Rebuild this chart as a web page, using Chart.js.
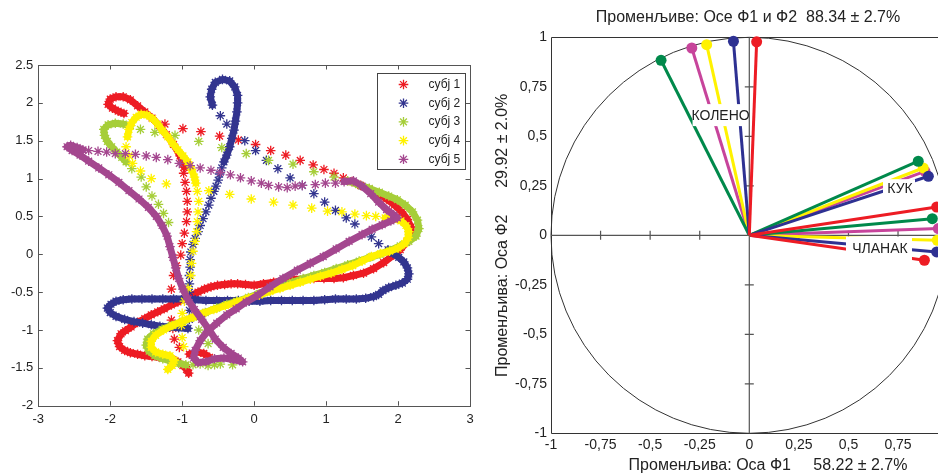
<!DOCTYPE html>
<html>
<head>
<meta charset="utf-8">
<script src="https://cdn.jsdelivr.net/npm/chart.js@4.4.1/dist/chart.umd.min.js"></script>
<style>
  html, body { margin: 0; padding: 0; width: 938px; height: 476px; overflow: hidden; background: #fff; }
  #traj { position: absolute; left: 0; top: 0; }
  #circle { position: absolute; left: 480px; top: 0; }
</style>
</head>
<body>
<canvas id="traj" width="480" height="476"></canvas>
<canvas id="circle" width="480" height="476"></canvas>
<script>
// ---- left panel: trajectories of the five subjects ----
const legendLabels = ['субј 1', 'субј 2', 'субј 3', 'субј 4', 'субј 5'];
const trajColors = ['#ed1c24', '#33358f', '#a6ce39', '#fff200', '#a4478f'];

// dense parts of each trajectory (pieces), and the sparse single stars
const s1Band = [
  [[-0.97,1.15],[-1.03,1.30],[-1.12,1.45],[-1.22,1.58],[-1.32,1.70],[-1.42,1.80],[-1.52,1.88],[-1.62,1.96],
   [-1.72,2.04],[-1.82,2.08],[-1.92,2.08],[-2.00,2.05],[-2.03,1.98],[-1.97,1.93],[-1.89,1.89],[-1.81,1.86]],
  [[1.36,0.96],[1.48,0.91],[1.60,0.86],[1.72,0.80],[1.84,0.73],[1.95,0.65],[2.05,0.56],[2.13,0.46],[2.18,0.36],
   [2.18,0.26],[2.12,0.16],[2.03,0.06],[1.94,-0.01],[1.80,-0.11],[1.66,-0.19],[1.52,-0.25],[1.38,-0.28],
   [1.24,-0.31],[1.11,-0.32],[0.97,-0.32],[0.83,-0.32],[0.69,-0.33],[0.55,-0.33],[0.41,-0.35],[0.27,-0.37],
   [0.13,-0.39],[0.00,-0.41],[-0.12,-0.40],[-0.23,-0.39],[-0.32,-0.39],[-0.41,-0.40],[-0.51,-0.41],[-0.60,-0.43],
   [-0.69,-0.46],[-0.78,-0.50],[-0.88,-0.55],[-0.97,-0.59],[-1.06,-0.63],[-1.15,-0.67],[-1.25,-0.72],
   [-1.34,-0.76],[-1.43,-0.80],[-1.52,-0.85],[-1.62,-0.90],[-1.71,-0.96],[-1.79,-1.01],[-1.85,-1.05],
   [-1.90,-1.14],[-1.87,-1.22],[-1.80,-1.27],[-1.72,-1.30],[-1.62,-1.32],[-1.52,-1.34],[-1.42,-1.35],
   [-1.32,-1.36],[-1.22,-1.37],[-1.13,-1.39],[-1.06,-1.42],[-0.99,-1.47],[-0.94,-1.52],[-0.91,-1.57]],
  [[-0.90,-1.32],[-0.80,-1.29],[-0.70,-1.31],[-0.62,-1.36]]
];
const s1Dots = [[-1.04,-1.23],[-1.11,-1.12],[-1.13,-0.98],[-1.15,-0.87],[-1.15,-0.46],[-1.12,-0.28],[-1.08,-0.15],
  [-1.02,-0.01],[-1.00,0.14],[-0.97,0.28],[-0.94,0.43],[-0.93,0.56],[-0.93,0.70],[-0.94,0.83],[-0.96,0.95],
  [-0.98,1.07],[-1.24,1.72],[-0.99,1.66],[-0.74,1.62],[-0.48,1.56],[-0.22,1.51],[0.02,1.45],[0.23,1.37],
  [0.44,1.31],[0.64,1.24],[0.82,1.18],[0.97,1.12],[1.11,1.07],[1.24,1.01]];

const s2Band = [
  [[-0.58,1.97],[-0.61,2.08],[-0.59,2.18],[-0.54,2.27],[-0.44,2.31],[-0.34,2.29],[-0.27,2.21],[-0.23,2.10],
   [-0.23,2.00],[-0.24,1.88],[-0.26,1.76],[-0.28,1.64],[-0.31,1.53],[-0.34,1.42],[-0.38,1.31],[-0.42,1.22]],
  [[-0.92,-0.98],[-1.05,-0.97],[-1.18,-0.96],[-1.31,-0.95],[-1.43,-0.93],[-1.55,-0.91],[-1.67,-0.89],
   [-1.80,-0.86],[-1.92,-0.82],[-2.00,-0.77],[-2.04,-0.71],[-1.99,-0.66],[-1.92,-0.62],[-1.82,-0.60],
   [-1.70,-0.59],[-1.56,-0.59],[-1.42,-0.59],[-1.27,-0.59],[-1.12,-0.59],[-0.97,-0.59],[-0.82,-0.60],
   [-0.67,-0.61],[-0.52,-0.61],[-0.37,-0.61],[-0.22,-0.61],[-0.07,-0.62],[0.08,-0.62],[0.23,-0.61],
   [0.38,-0.61],[0.53,-0.61],[0.68,-0.61],[0.83,-0.61],[0.98,-0.60],[1.13,-0.59],[1.28,-0.59],[1.42,-0.59],
   [1.55,-0.58],[1.66,-0.56],[1.73,-0.53],[1.79,-0.48],[1.87,-0.44],[1.97,-0.41],[2.06,-0.38],[2.13,-0.33],
   [2.15,-0.26],[2.13,-0.18],[2.08,-0.10],[2.01,-0.04],[1.93,0.01],[1.86,0.06]]
];
const s2Dots = [[-0.45,1.14],[-0.48,1.06],[-0.50,0.98],[-0.53,0.90],[-0.56,0.83],[-0.60,0.74],[-0.63,0.65],
  [-0.67,0.56],[-0.71,0.47],[-0.75,0.38],[-0.78,0.30],[-0.82,0.21],[-0.85,0.13],[-0.88,0.03],[-0.89,-0.07],
  [-0.89,-0.17],[-0.90,-0.28],[-0.90,-0.39],[-0.90,-0.50],[-0.90,-0.62],[-0.90,-0.74],[-0.90,-0.86],
  [1.73,0.14],[1.63,0.23],[1.40,0.40],[1.28,0.48],[1.13,0.58],[0.98,0.69],[0.83,0.80],[0.67,0.91],
  [0.50,1.01],[0.33,1.13],[0.17,1.24],[0.02,1.37],[-0.13,1.50],[-0.38,1.72],[-0.47,1.83]];

const s3Band = [
  [[-1.72,1.70],[-1.82,1.72],[-1.93,1.73],[-2.03,1.71],[-2.09,1.65],[-2.08,1.57],[-2.04,1.49],[-1.98,1.42],
   [-1.91,1.35],[-1.84,1.28],[-1.78,1.22]],
  [[1.30,0.97],[1.45,0.92],[1.60,0.87],[1.74,0.82],[1.87,0.77],[1.99,0.72],[2.10,0.65],[2.20,0.56],[2.27,0.45],
   [2.29,0.34],[2.25,0.24],[2.15,0.17],[2.03,0.11],[1.89,0.05],[1.75,0.00],[1.61,-0.04],[1.46,-0.09],
   [1.30,-0.14],[1.14,-0.19],[0.98,-0.24],[0.83,-0.28],[0.68,-0.32],[0.53,-0.37],[0.37,-0.42],[0.22,-0.47],
   [0.07,-0.52],[-0.08,-0.57],[-0.24,-0.62],[-0.38,-0.66],[-0.52,-0.71],[-0.68,-0.77],[-0.84,-0.83],
   [-1.00,-0.89],[-1.15,-0.94],[-1.28,-0.99],[-1.40,-1.05],[-1.48,-1.12],[-1.50,-1.20],[-1.46,-1.28],
   [-1.38,-1.34],[-1.27,-1.38],[-1.16,-1.41],[-1.05,-1.44],[-0.95,-1.46]]
];
const s3Dots = [[-1.58,1.65],[-1.38,1.61],[-1.10,1.57],[-0.77,1.49],[-0.45,1.41],[-0.11,1.33],[0.20,1.24],
  [0.54,1.19],[0.83,1.09],[1.11,1.02],[-1.70,1.13],[-1.57,1.02],[-1.50,0.89],[-1.42,0.77],[-1.33,0.66],
  [-1.26,0.54],[-1.19,0.42],[-0.77,-1.00],[-0.64,-1.18],[-0.85,-1.46],[-0.75,-1.45],[-0.64,-1.47],
  [-0.55,-1.46],[-0.47,-1.45],[-0.30,-1.46]];

const s4Band = [
  [[-1.76,1.55],[-1.74,1.65],[-1.70,1.74],[-1.64,1.81],[-1.57,1.85],[-1.49,1.84],[-1.41,1.79],[-1.34,1.72],
   [-1.27,1.63],[-1.20,1.55],[-1.13,1.46],[-1.06,1.38],[-0.99,1.30],[-0.92,1.22],[-0.87,1.12],[-0.83,1.02],
   [-0.81,0.94]],
  [[1.82,0.48],[1.94,0.47],[2.04,0.44],[2.11,0.38],[2.15,0.30],[2.14,0.22],[2.09,0.14],[2.00,0.08],[1.88,0.04],
   [1.76,0.01],[1.63,-0.03],[1.50,-0.09],[1.37,-0.15],[1.22,-0.20],[1.07,-0.25],[0.92,-0.29],[0.78,-0.33],
   [0.64,-0.37],[0.50,-0.41],[0.36,-0.45],[0.22,-0.49],[0.07,-0.54],[-0.08,-0.58],[-0.24,-0.63],[-0.40,-0.68],
   [-0.56,-0.73],[-0.71,-0.78],[-0.85,-0.83],[-0.99,-0.88],[-1.13,-0.94],[-1.26,-1.00],[-1.37,-1.07],
   [-1.43,-1.15],[-1.43,-1.23],[-1.37,-1.29],[-1.27,-1.32],[-1.17,-1.34],[-1.11,-1.40],[-1.14,-1.47],
   [-1.20,-1.52]]
];
const s4Dots = [[-1.78,1.42],[-1.74,1.30],[-1.69,1.20],[-1.58,1.10],[-1.43,1.00],[-1.22,0.93],[-0.63,0.84],
  [-0.34,0.79],[-0.04,0.73],[0.27,0.69],[0.54,0.65],[0.80,0.61],[1.02,0.57],[1.22,0.56],[1.40,0.53],
  [1.56,0.51],[1.69,0.50],[-0.79,0.83],[-0.77,0.70],[-0.78,0.56],[-0.79,0.43],[-0.80,0.30],[-0.82,0.17],
  [-0.85,0.04],[-0.87,-0.12],[-0.88,-0.28],[-0.92,-0.45],[-0.97,-0.62],[-1.00,-0.78],[-1.01,-0.94],
  [-1.00,-1.10],[-0.98,-1.22]];

const s5Band = [
  [[1.25,0.96],[1.38,0.97],[1.50,0.90],[1.62,0.80],[1.73,0.69],[1.84,0.59],[1.94,0.52],[1.99,0.48],[1.90,0.44],
   [1.78,0.39],[1.64,0.33],[1.50,0.26],[1.32,0.17],[1.14,0.07],[0.96,-0.03],[0.78,-0.12],[0.60,-0.21],
   [0.40,-0.32],[0.22,-0.43],[0.05,-0.54],[-0.11,-0.63],[-0.25,-0.72],[-0.38,-0.80],[-0.52,-0.91],
   [-0.65,-1.02],[-0.75,-1.14],[-0.82,-1.27],[-0.84,-1.37],[-0.78,-1.43],[-0.67,-1.42],[-0.55,-1.38],
   [-0.42,-1.37],[-0.29,-1.39],[-0.16,-1.42],[-0.22,-1.37],[-0.32,-1.31],[-0.43,-1.23],[-0.54,-1.12],
   [-0.63,-0.99],[-0.73,-0.86],[-0.83,-0.73],[-0.92,-0.60],[-0.99,-0.46],[-1.05,-0.32],[-1.09,-0.18],
   [-1.13,-0.04],[-1.17,0.10],[-1.21,0.24],[-1.28,0.38],[-1.36,0.50],[-1.47,0.62],[-1.60,0.73],[-1.74,0.84],
   [-1.88,0.95],[-2.02,1.05],[-2.16,1.14],[-2.30,1.23],[-2.42,1.31],[-2.53,1.37],[-2.60,1.42],[-2.55,1.44],
   [-2.46,1.41],[-2.38,1.38]]
];
const s5Dots = [[-2.30,1.37],[-2.17,1.36],[-2.05,1.35],[-1.93,1.33],[-1.79,1.33],[-1.65,1.32],[-1.50,1.30],
  [-1.36,1.28],[-1.20,1.25],[-1.04,1.20],[-0.89,1.17],[-0.75,1.14],[-0.60,1.11],[-0.47,1.08],[-0.33,1.05],
  [-0.19,1.01],[-0.04,0.97],[0.10,0.94],[0.20,0.91],[0.34,0.89],[0.46,0.88],[0.57,0.90],[0.67,0.91],
  [0.85,0.92],[0.99,0.94],[1.13,0.94]];

// ---- right panel: correlation circle, loadings on F1 / F2 ----
const vecColors = ['#ed1c24', '#2e3192', '#00894b', '#fff200', '#c7449b'];
const kneeF1 = [0.037, -0.08, -0.445, -0.215, -0.29];
const kneeF2 = [0.977, 0.98, 0.884, 0.963, 0.946];
const hipF1 = [0.945, 0.903, 0.852, 0.877, 0.886];
const hipF2 = [0.143, 0.298, 0.374, 0.34, 0.323];
const ankleF1 = [0.883, 0.945, 0.923, 0.948, 0.953];
const ankleF2 = [-0.126, -0.084, 0.084, -0.025, 0.034];

const FONT = '"Liberation Sans", Arial, sans-serif';
Chart.defaults.font.family = FONT;
Chart.defaults.color = '#222';

function drawStar(ctx, x, y, r) {
  const d = r * Math.SQRT1_2;
  ctx.beginPath();
  ctx.moveTo(x - r, y); ctx.lineTo(x + r, y);
  ctx.moveTo(x, y - r); ctx.lineTo(x, y + r);
  ctx.moveTo(x - d, y - d); ctx.lineTo(x + d, y + d);
  ctx.moveTo(x - d, y + d); ctx.lineTo(x + d, y - d);
  ctx.stroke();
}

const toXY = p => ({ x: p[0], y: p[1] });
const series = [
  { band: s1Band, dots: s1Dots },
  { band: s2Band, dots: s2Dots },
  { band: s3Band, dots: s3Dots },
  { band: s4Band, dots: s4Dots },
  { band: s5Band, dots: s5Dots }
];
const trajSets = [];
series.forEach((s, i) => {
  const color = trajColors[i];
  const order = series.length - i; // later subjects on top, like the original plot
  s.band.forEach(piece => trajSets.push({
    label: legendLabels[i], data: piece.map(toXY), showLine: true, order,
    borderColor: color, borderWidth: 7, borderJoinStyle: 'round', borderCapStyle: 'round',
    pointStyle: 'star', pointRadius: 4.8, pointBorderWidth: 1.3, pointBorderColor: color
  }));
  trajSets.push({
    label: legendLabels[i], data: s.dots.map(toXY), showLine: false, order,
    pointStyle: 'star', pointRadius: 4.8, pointBorderWidth: 1.3, pointBorderColor: color
  });
});

// matlab-like box with inward ticks
const boxPlugin = {
  id: 'boxTicks',
  afterDatasetsDraw(chart) {
    const { ctx, chartArea: a, scales: { x, y } } = chart;
    ctx.save();
    ctx.strokeStyle = '#555';
    ctx.lineWidth = 1;
    ctx.strokeRect(Math.round(a.left) + 0.5, Math.round(a.top) + 0.5, Math.round(a.right - a.left), Math.round(a.bottom - a.top));
    ctx.beginPath();
    x.ticks.forEach(t => {
      const px = Math.round(x.getPixelForValue(t.value)) + 0.5;
      ctx.moveTo(px, a.bottom); ctx.lineTo(px, a.bottom - 4.5);
      ctx.moveTo(px, a.top); ctx.lineTo(px, a.top + 4.5);
    });
    y.ticks.forEach(t => {
      const py = Math.round(y.getPixelForValue(t.value)) + 0.5;
      ctx.moveTo(a.left, py); ctx.lineTo(a.left + 4.5, py);
      ctx.moveTo(a.right, py); ctx.lineTo(a.right - 4.5, py);
    });
    ctx.stroke();
    ctx.restore();
  }
};

const legendPlugin = {
  id: 'boxLegend',
  afterDraw(chart) {
    const { ctx, chartArea: a } = chart;
    const w = 88, h = 96;
    const left = Math.round(a.right - 5 - w), top = Math.round(a.top + 8);
    ctx.save();
    ctx.fillStyle = '#fff';
    ctx.fillRect(left, top, w, h);
    ctx.strokeStyle = '#444';
    ctx.lineWidth = 1;
    ctx.strokeRect(left + 0.5, top + 0.5, w, h);
    ctx.font = '12px ' + FONT;
    ctx.textBaseline = 'middle';
    legendLabels.forEach((lab, i) => {
      const yy = top + 11.5 + i * 18.7;
      ctx.strokeStyle = trajColors[i];
      ctx.lineWidth = 1.3;
      drawStar(ctx, left + 26.5, yy, 4.8);
      ctx.fillStyle = '#222';
      ctx.fillText(lab, left + 51.5, yy);
    });
    ctx.restore();
  }
};

new Chart(document.getElementById('traj'), {
  type: 'scatter',
  data: { datasets: trajSets },
  options: {
    responsive: false, animation: false, devicePixelRatio: 1, events: [],
    layout: { padding: { top: 65, right: 10, bottom: 0, left: 0 } },
    plugins: { legend: { display: false }, tooltip: { enabled: false } },
    scales: {
      x: {
        type: 'linear', min: -3, max: 3,
        afterFit: s => { s.height = 70.3; },
        grid: { display: false, drawTicks: false }, border: { display: false },
        ticks: { stepSize: 1, padding: 6, autoSkip: false, maxRotation: 0, color: '#222', font: { size: 13 }, callback: v => String(v) }
      },
      y: {
        type: 'linear', min: -2, max: 2.5,
        afterFit: s => { s.width = 38.3; },
        grid: { display: false, drawTicks: false }, border: { display: false },
        ticks: { stepSize: 0.5, padding: 5, autoSkip: false, color: '#222', font: { size: 13 }, callback: v => String(v) }
      }
    }
  },
  plugins: [boxPlugin, legendPlugin]
});

// ---- right chart ----
const circleSets = [];
[[kneeF1, kneeF2], [hipF1, hipF2], [ankleF1, ankleF2]].forEach(([fx, fy]) => {
  fx.forEach((v, i) => circleSets.push({
    data: [{ x: 0, y: 0 }, { x: v, y: fy[i] }], showLine: true, clip: false,
    borderColor: vecColors[i], borderWidth: 3,
    pointRadius: [0, 5.5], pointBackgroundColor: vecColors[i], pointBorderColor: vecColors[i], pointBorderWidth: 0
  }));
});

const partLabels = [
  { text: 'КОЛЕНО', x: -0.145, y: 0.607, box: [-28, -11, 55, 22] },
  { text: 'КУК', x: 0.76, y: 0.238, box: [-17, -9, 32, 18] },
  { text: 'ЧЛАНАК', x: 0.659, y: -0.067, box: [-34, -12, 66, 25] }
];
const titles = {
  top: 'Променљиве: Осе Ф1 и Ф2  88.34 ± 2.7%',
  x: 'Променљива: Оса Ф1     58.22 ± 2.7%',
  y: 'Променљива: Оса Ф2      29.92 ± 2.0%'
};

const circlePlugin = {
  id: 'circleFrame',
  beforeDatasetsDraw(chart) {
    const { ctx, chartArea: a, scales: { x, y } } = chart;
    const x0 = x.getPixelForValue(0), y0 = y.getPixelForValue(0);
    ctx.save();
    ctx.strokeStyle = '#333';
    ctx.lineWidth = 1;
    ctx.beginPath();
    ctx.moveTo(a.right + 30, Math.round(a.top) + 0.5);
    ctx.lineTo(Math.round(a.left) + 0.5, Math.round(a.top) + 0.5);
    ctx.lineTo(Math.round(a.left) + 0.5, Math.round(a.bottom) + 0.5);
    ctx.lineTo(a.right + 30, Math.round(a.bottom) + 0.5);
    ctx.stroke();
    ctx.beginPath();
    ctx.ellipse(x0, y0, x.getPixelForValue(1) - x0, y0 - y.getPixelForValue(1), 0, 0, Math.PI * 2);
    ctx.stroke();
    // centre axes with small ticks
    ctx.strokeStyle = '#555';
    ctx.lineWidth = 1.2;
    ctx.beginPath();
    ctx.moveTo(x0, a.top); ctx.lineTo(x0, a.bottom);
    ctx.moveTo(a.left, y0); ctx.lineTo(a.right + 30, y0);
    x.ticks.forEach(t => {
      if (t.value === 0 || Math.abs(t.value) === 1) return;
      const px = x.getPixelForValue(t.value);
      ctx.moveTo(px, y0 - 4.5); ctx.lineTo(px, y0 + 4.5);
    });
    y.ticks.forEach(t => {
      if (t.value === 0 || Math.abs(t.value) === 1) return;
      const py = y.getPixelForValue(t.value);
      ctx.moveTo(x0 - 4.5, py); ctx.lineTo(x0 + 4.5, py);
    });
    ctx.stroke();
    ctx.restore();
  },
  afterDatasetsDraw(chart) {
    const { ctx, scales: { x, y } } = chart;
    ctx.save();
    ctx.font = '14px ' + FONT;
    ctx.textAlign = 'center';
    ctx.textBaseline = 'middle';
    partLabels.forEach(l => {
      const px = x.getPixelForValue(l.x), py = y.getPixelForValue(l.y);
      ctx.fillStyle = '#fff';
      ctx.fillRect(px + l.box[0], py + l.box[1], l.box[2], l.box[3]);
      ctx.fillStyle = '#222';
      ctx.fillText(l.text, px, py + 1);
    });
    ctx.restore();
  },
  afterDraw(chart) {
    const { ctx, chartArea: a } = chart;
    ctx.save();
    ctx.fillStyle = '#222';
    ctx.font = '16px ' + FONT;
    ctx.textAlign = 'center';
    ctx.textBaseline = 'middle';
    ctx.fillText(titles.top, a.left + 197, 18);
    ctx.fillText(titles.x, a.left + 217, 466);
    ctx.translate(23, (a.top + a.bottom) / 2);
    ctx.rotate(-Math.PI / 2);
    ctx.fillText(titles.y, 0, 0);
    ctx.restore();
  }
};

const commaTick = v => String(Math.round(v * 100) / 100).replace('.', ',');

new Chart(document.getElementById('circle'), {
  type: 'scatter',
  data: { datasets: circleSets },
  options: {
    responsive: false, animation: false, devicePixelRatio: 1, events: [],
    layout: { padding: { top: 37.3, right: 12.4, bottom: 0, left: 0 } },
    plugins: { legend: { display: false }, tooltip: { enabled: false } },
    scales: {
      x: {
        type: 'linear', min: -1, max: 1,
        afterFit: s => { s.height = 42.7; },
        grid: { display: false, drawTicks: false }, border: { display: false },
        ticks: { stepSize: 0.25, padding: 3, autoSkip: false, maxRotation: 0, color: '#222', font: { size: 14 }, callback: commaTick }
      },
      y: {
        type: 'linear', min: -1, max: 1,
        afterFit: s => { s.width = 71; },
        grid: { display: false, drawTicks: false }, border: { display: false },
        ticks: { stepSize: 0.25, padding: 4, autoSkip: false, color: '#222', font: { size: 14 }, callback: commaTick }
      }
    }
  },
  plugins: [circlePlugin]
});
</script>
</body>
</html>
